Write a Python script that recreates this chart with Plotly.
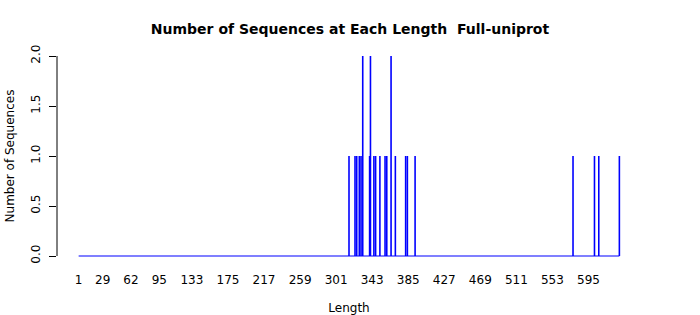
import plotly.graph_objects as go

# Data (length -> number of sequences)
lengths = [316, 323, 325, 328, 330, 332, 340, 341, 345, 347, 352, 358, 360,
           365, 370, 382, 384, 393, 577, 602, 607, 631]
counts = [1, 1, 1, 1, 1, 2, 1, 2, 1, 1, 1, 1, 1,
          2, 1, 1, 1, 1, 1, 1, 1, 1]
length_min = 1
length_max = 631
tick_values = [1, 29, 62, 95, 133, 175, 217, 259, 301, 343, 385, 427, 469, 511, 553, 595]
y_ticks = [0.0, 0.5, 1.0, 1.5, 2.0]

FONT = "DejaVu Sans"
BLUE = "#0000FF"

# vertical "h" lines
xs, ys = [], []
for l, c in zip(lengths, counts):
    xs += [l, l, None]
    ys += [0, c, None]

fig = go.Figure()
fig.add_trace(go.Scatter(x=[length_min, length_max], y=[0, 0], mode="lines",
                         line=dict(color=BLUE, width=1.2), hoverinfo="skip"))
fig.add_trace(go.Scatter(x=xs, y=ys, mode="lines",
                         line=dict(color=BLUE, width=1.6)))

span = length_max - length_min
xr = [length_min - 0.04 * span, length_max + 0.04 * span]
yr = [-0.08, 2.08]

fig.update_layout(
    width=700, height=315,
    margin=dict(l=57, r=59, t=48, b=51),
    paper_bgcolor="white", plot_bgcolor="white",
    showlegend=False,
    font=dict(family=FONT, size=12, color="black"),
    title=dict(text="<b>Number of Sequences at Each Length  Full-uniprot</b>",
               x=0.5, xanchor="center", xref="paper" if False else "container",
               y=1 - 29 / 315, yanchor="middle",
               font=dict(family=FONT, size=14, color="black")),
    xaxis=dict(range=xr, tickmode="array", tickvals=tick_values,
               ticktext=[str(v) for v in tick_values],
               showgrid=False, zeroline=False, showline=False,
               automargin=False,
               ticks="outside", ticklen=5, tickcolor="rgba(0,0,0,0)",
               tickfont=dict(size=12),
               title=dict(text="Length", font=dict(size=12), standoff=17)),
    yaxis=dict(range=yr, tickmode="array", tickvals=y_ticks,
               ticktext=[f"{v:.1f}" for v in y_ticks],
               showgrid=False, zeroline=False, showline=False,
               automargin=False,
               ticks="outside", ticklen=7, tickcolor="black", tickwidth=1,
               ticklabelstandoff=4,
               tickangle=-90, tickfont=dict(size=12),
               title=dict(text="Number of Sequences", font=dict(size=12), standoff=12)),
)
# R-style y axis line spanning only the tick range
fig.add_shape(type="line", xref="paper", yref="y", x0=0, x1=0,
              y0=y_ticks[0], y1=y_ticks[-1], line=dict(color="black", width=1))

fig.write_html("out.html")
